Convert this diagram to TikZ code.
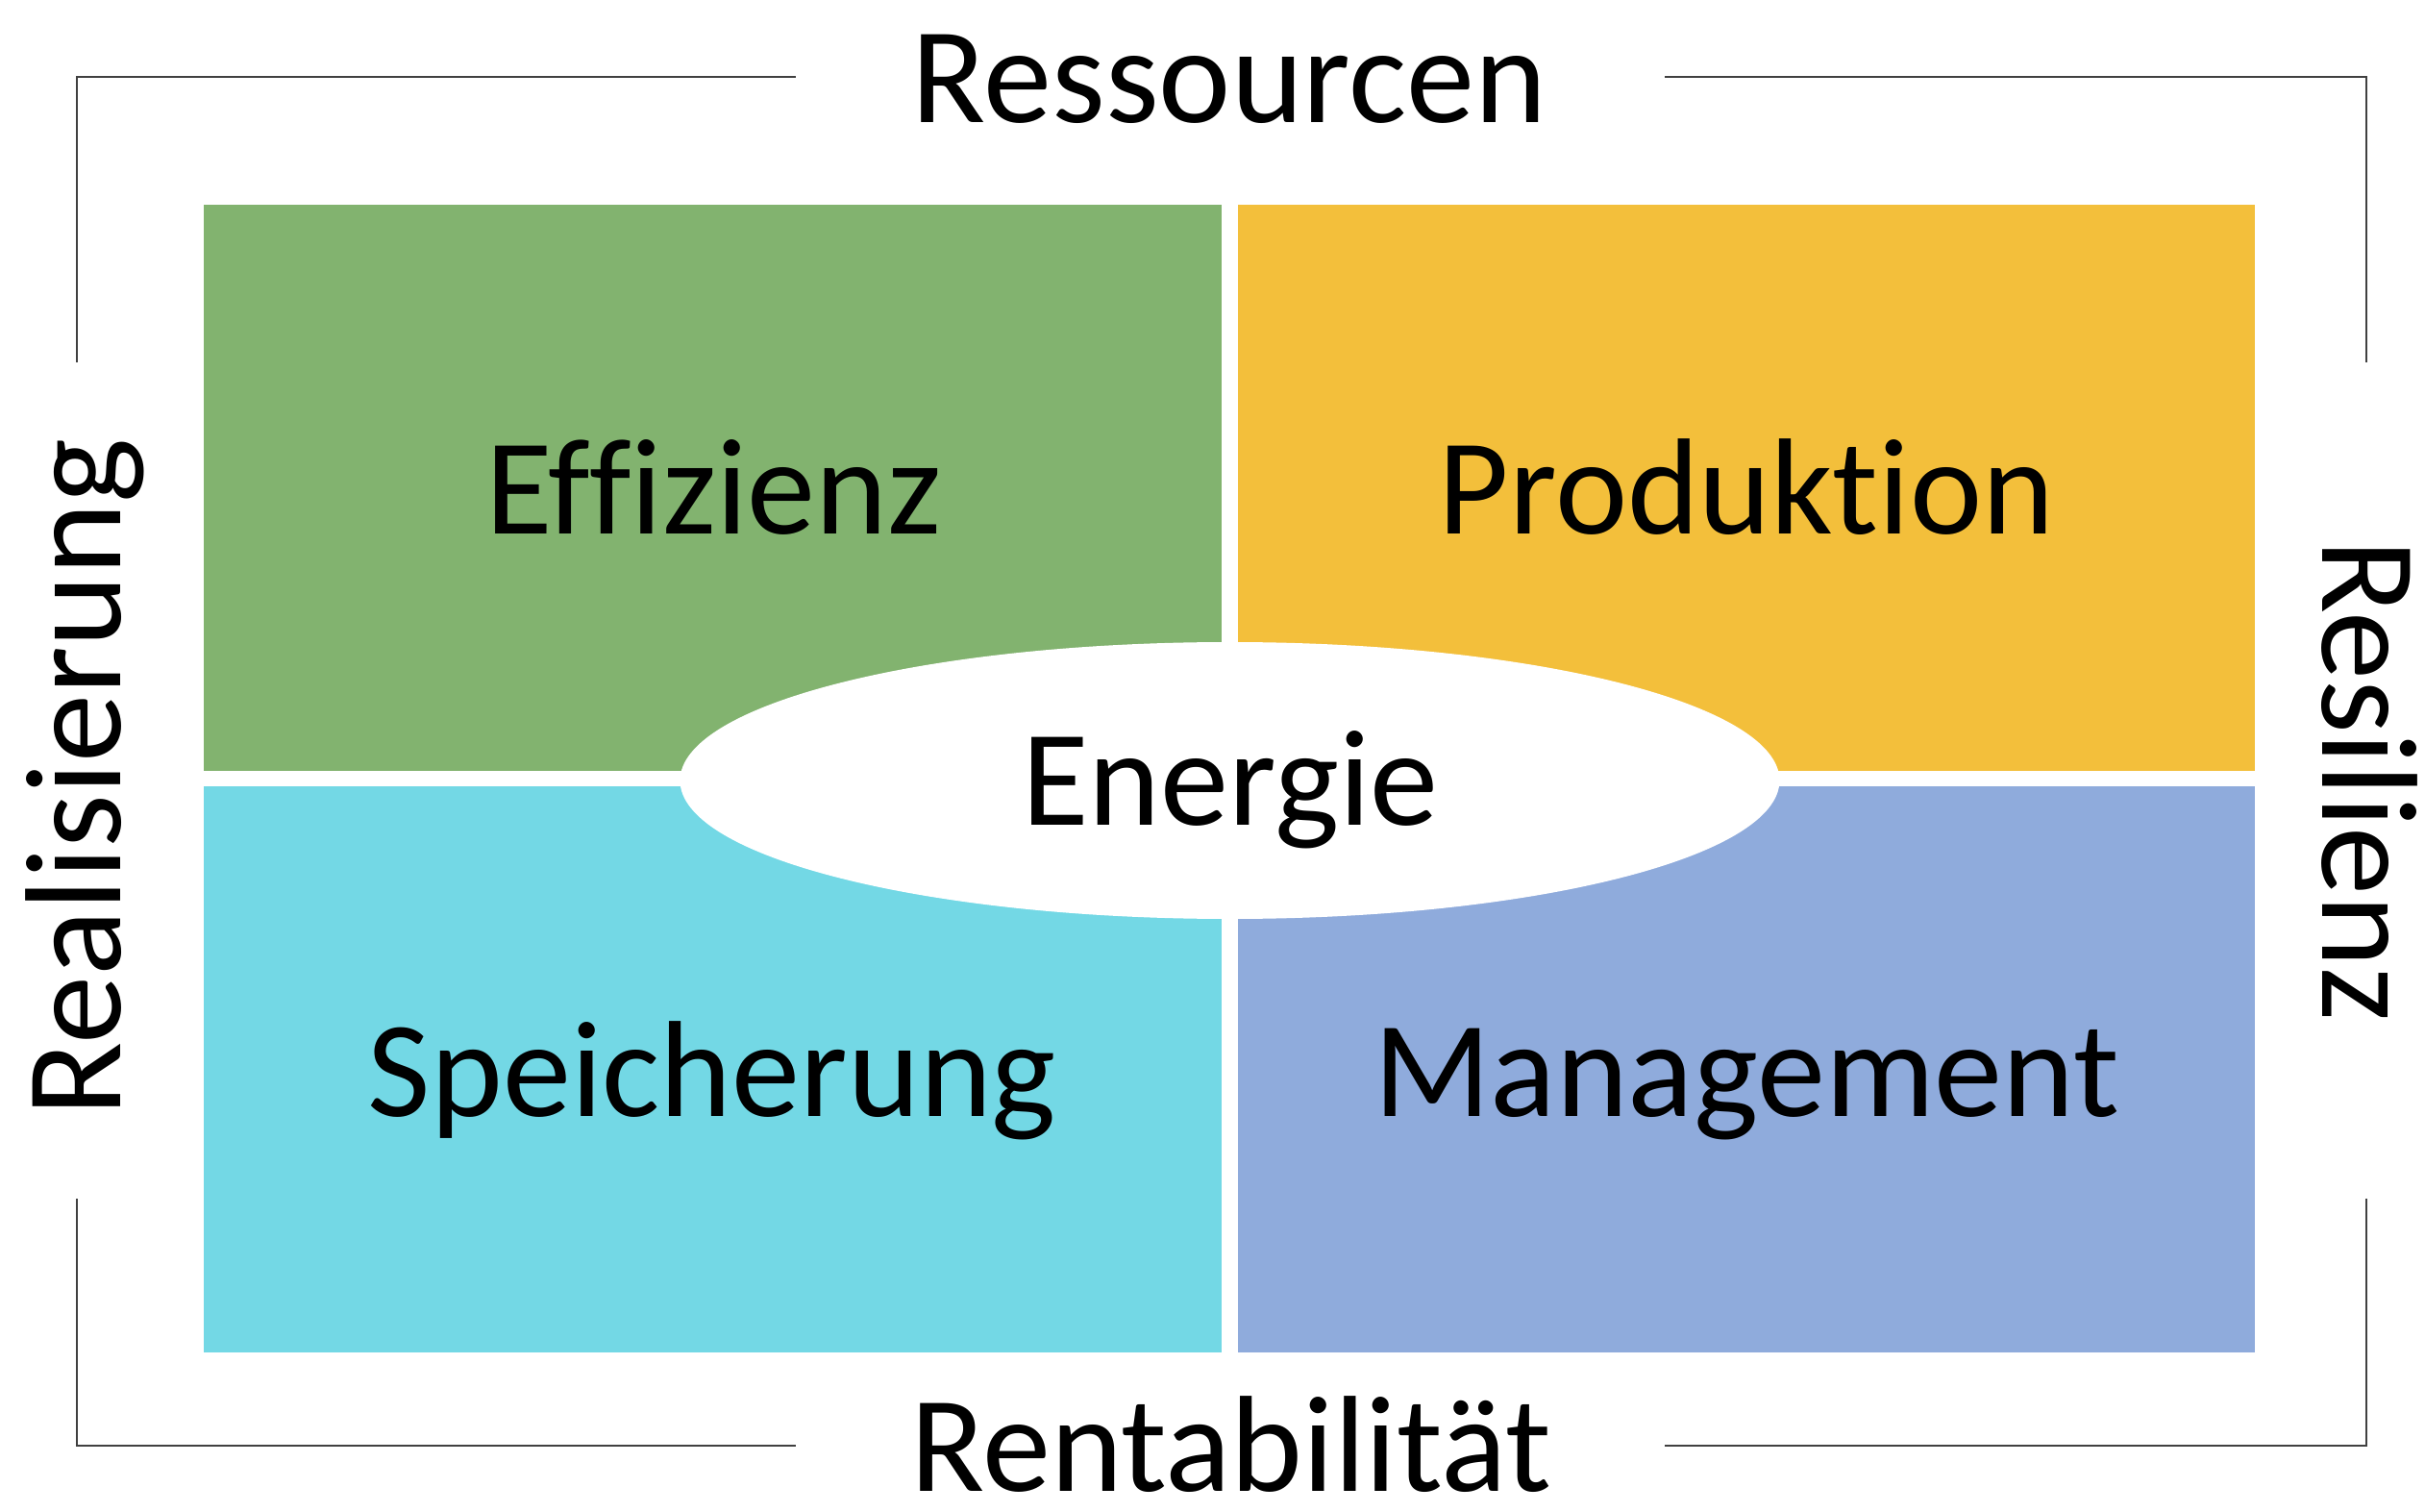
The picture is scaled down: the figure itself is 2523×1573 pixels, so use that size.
\documentclass[tikz,border=0pt]{standalone}
\usepackage{fontspec}
\setmainfont{Carlito}[Ligatures={NoCommon}]
\definecolor{cgreen}{HTML}{82B36F}
\definecolor{cyellow}{HTML}{F3BF3B}
\definecolor{ccyan}{HTML}{73D8E5}
\definecolor{cblue}{HTML}{8FABDC}
\definecolor{cframe}{HTML}{404040}
\tikzset{
  quad/.style={rectangle, draw=none, inner sep=0pt, outer sep=0pt},
  lbl/.style={anchor=base, inner sep=0pt, font=\fontsize{40.5}{48}\selectfont, text=black},
  framel/.style={draw=cframe, line width=0.6pt, line cap=rect}
}
\begin{document}
\begin{tikzpicture}[x=0.01cm, y=-0.01cm]
\useasboundingbox (0,0) rectangle (2523,1573);
% quadrants
\fill[cgreen]  (212,213) rectangle (1271,802);
\fill[cyellow] (1288,213) rectangle (2346,802);
\fill[ccyan]   (212,818) rectangle (1271,1407);
\fill[cblue]   (1288,818) rectangle (2346,1407);
% ellipse
\fill[white] (1279.5,812) ellipse [x radius=572, y radius=144];
% frame
\draw[framel] (80,376) -- (80,80) -- (827,80);
\draw[framel] (1733,80) -- (2462,80) -- (2462,376);
\draw[framel] (80,1248) -- (80,1504) -- (827,1504);
\draw[framel] (1733,1504) -- (2462,1504) -- (2462,1248);
% labels
\node[lbl] (eff) at (743,556) {Effizienz};
\node[lbl] (pro) at (1817,556) {Produktion};
\node[lbl] (spe) at (741,1161) {Speicherung};
\node[lbl] (man) at (1817,1161) {Management};
\node[lbl] (ene) at (1280,859) {Energie};
\node[lbl] (res) at (1279,128) {Ressourcen};
\node[lbl] (ren) at (1281,1551) {Rentabilität};
\node[lbl, rotate=90] (rea) at (126,809) {Realisierung};
\node[lbl, rotate=-90] (resil) at (2416,812) {Resilienz};
\end{tikzpicture}
\end{document}
